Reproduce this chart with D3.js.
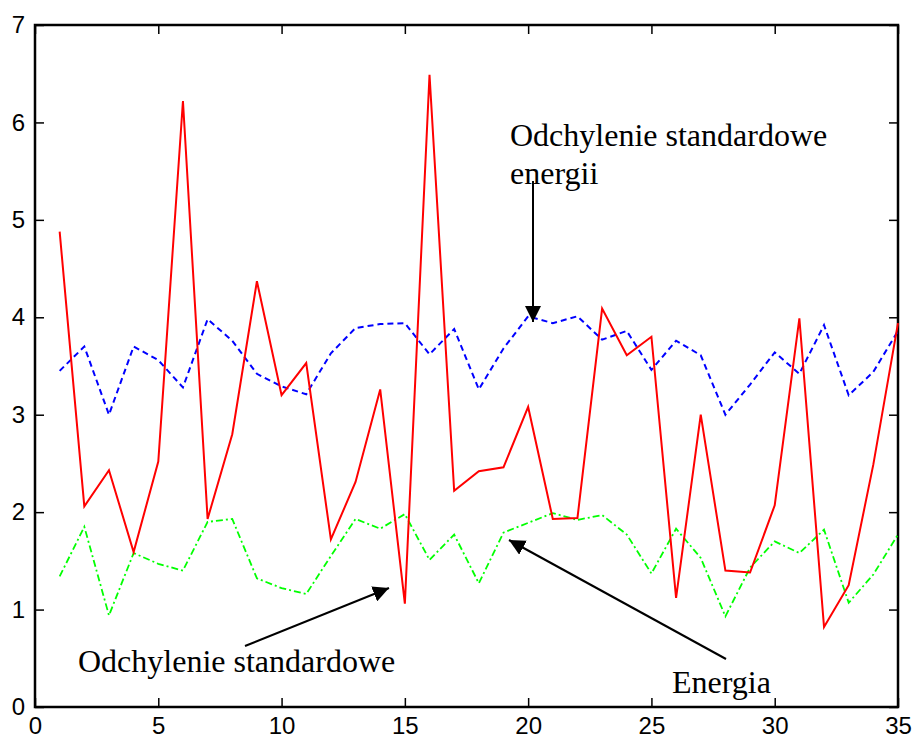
<!DOCTYPE html>
<html>
<head>
<meta charset="utf-8">
<script src="https://cdn.jsdelivr.net/npm/d3@7"></script>
<style>
  body { margin: 0; background: #fff; }
</style>
</head>
<body>
<div id="chart"></div>
<script>
// dane (x = 1..35)
const xs = d3.range(1, 36);
const odchylenie = [4.88, 2.06, 2.43, 1.59, 2.52, 6.22, 1.93, 2.80, 4.37, 3.20,
  3.53, 1.72, 2.31, 3.26, 1.06, 6.49, 2.22, 2.42, 2.46, 3.08,
  1.93, 1.94, 4.09, 3.61, 3.80, 1.12, 3.00, 1.40, 1.38, 2.07,
  3.99, 0.82, 1.25, 2.49, 3.94];
const odchylenieEnergii = [3.45, 3.70, 3.00, 3.70, 3.56, 3.28, 3.98, 3.76, 3.42, 3.29,
  3.21, 3.63, 3.89, 3.93, 3.94, 3.62, 3.88, 3.26, 3.68, 4.01,
  3.94, 4.01, 3.77, 3.86, 3.46, 3.76, 3.61, 3.00, 3.31, 3.64,
  3.42, 3.92, 3.20, 3.44, 3.86];
const energia = [1.34, 1.85, 0.94, 1.58, 1.47, 1.40, 1.90, 1.93, 1.32, 1.22,
  1.16, 1.55, 1.93, 1.83, 1.98, 1.51, 1.77, 1.27, 1.79, 1.89,
  1.99, 1.92, 1.97, 1.77, 1.37, 1.83, 1.53, 0.93, 1.43, 1.70,
  1.58, 1.82, 1.07, 1.36, 1.77];
const xTicks = [0, 5, 10, 15, 20, 25, 30, 35];
const yTicks = [0, 1, 2, 3, 4, 5, 6, 7];

const width = 916, height = 742;
const margin = { top: 25, right: 18, bottom: 35, left: 35 };

const svg = d3.select("#chart").append("svg")
  .attr("width", width).attr("height", height)
  .style("background", "white");

const x = d3.scaleLinear().domain([0, 35]).range([margin.left, width - margin.right]);
const y = d3.scaleLinear().domain([0, 7]).range([height - margin.bottom, margin.top]);

const tickLen = 9;
const tickFont = "'Liberation Sans', Arial, sans-serif";

// osie (ramka jak w MATLABie, ticki do środka)
const ax = (g) => g.call(s => s.select(".domain").remove())
  .call(s => s.selectAll("line").attr("stroke", "#000").attr("stroke-width", 1.5))
  .call(s => s.selectAll("text").attr("fill", "#000")
    .style("font-family", tickFont).style("font-size", "24px"));

svg.append("g")
  .attr("transform", `translate(0,${y(0)})`)
  .call(d3.axisBottom(x).tickValues(xTicks).tickSize(-tickLen).tickPadding(10).tickFormat(d3.format("d")))
  .call(ax);
svg.append("g")
  .attr("transform", `translate(0,${y(7)})`)
  .call(d3.axisTop(x).tickValues(xTicks).tickSize(-tickLen).tickFormat(""))
  .call(ax);
svg.append("g")
  .attr("transform", `translate(${x(0)},0)`)
  .call(d3.axisLeft(y).tickValues(yTicks).tickSize(-tickLen).tickPadding(10).tickFormat(d3.format("d")))
  .call(ax);
svg.append("g")
  .attr("transform", `translate(${x(35)},0)`)
  .call(d3.axisRight(y).tickValues(yTicks).tickSize(-tickLen).tickFormat(""))
  .call(ax);

svg.append("rect")
  .attr("x", x(0)).attr("y", y(7))
  .attr("width", x(35) - x(0)).attr("height", y(0) - y(7))
  .attr("fill", "none").attr("stroke", "#000").attr("stroke-width", 2.5);

const line = d3.line().x((d, i) => x(xs[i])).y(d => y(d));

svg.append("path").datum(odchylenieEnergii)
  .attr("d", line).attr("fill", "none")
  .attr("stroke", "#0000ff").attr("stroke-width", 2)
  .attr("stroke-dasharray", "6,4");

svg.append("path").datum(energia)
  .attr("d", line).attr("fill", "none")
  .attr("stroke", "#00ff00").attr("stroke-width", 1.8)
  .attr("stroke-dasharray", "7,3,2,3");

svg.append("path").datum(odchylenie)
  .attr("d", line).attr("fill", "none")
  .attr("stroke", "#ff0000").attr("stroke-width", 2);

// strzałki i opisy
svg.append("defs").append("marker")
  .attr("id", "head").attr("viewBox", "0 0 10 10")
  .attr("refX", 10).attr("refY", 5)
  .attr("markerWidth", 16).attr("markerHeight", 16)
  .attr("markerUnits", "userSpaceOnUse")
  .attr("orient", "auto")
  .append("path").attr("d", "M0,0 L10,5 L0,10 Z").attr("fill", "#000");

const arrows = [
  [533, 181, 533, 322],
  [245, 646, 389, 588],
  [726, 659, 509, 540]
];
svg.selectAll(".arrow").data(arrows).join("line")
  .attr("x1", d => d[0]).attr("y1", d => d[1])
  .attr("x2", d => d[2]).attr("y2", d => d[3])
  .attr("stroke", "#000").attr("stroke-width", 2)
  .attr("marker-end", "url(#head)");

const serif = "'Liberation Serif', 'Times New Roman', serif";
const labels = [
  { t: "Odchylenie standardowe", x: 510, y: 146 },
  { t: "energii", x: 510, y: 184 },
  { t: "Odchylenie standardowe", x: 78, y: 672 },
  { t: "Energia", x: 672, y: 693 }
];
svg.selectAll(".lbl").data(labels).join("text")
  .attr("x", d => d.x).attr("y", d => d.y)
  .style("font-family", serif).style("font-size", "32px")
  .attr("fill", "#000")
  .text(d => d.t);
</script>
</body>
</html>
